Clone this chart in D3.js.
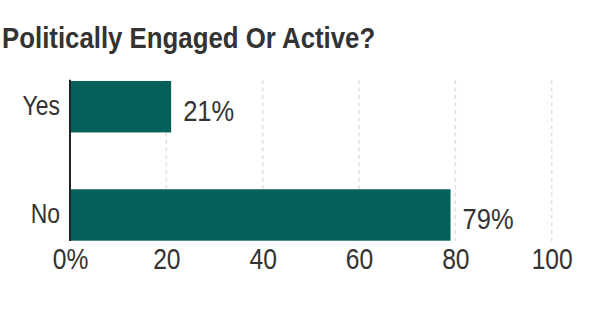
<!DOCTYPE html>
<html>
<head>
<meta charset="utf-8">
<script src="https://cdn.jsdelivr.net/npm/d3@7"></script>
<style>
  html, body { margin: 0; padding: 0; background: #fff; }
  svg text { font-family: "Liberation Sans", Arial, sans-serif; }
</style>
</head>
<body>
<svg id="chart" width="600" height="322"></svg>
<script>
const title = "Politically Engaged Or Active?";
const categories = ["Yes", "No"];
const values = [21, 79];
const tickValues = [0, 20, 40, 60, 80, 100];
const tickLabels = ["0%", "20", "40", "60", "80", "100"];

const SX = 0.85;      // horizontal condensing of body text
const SX_TITLE = 0.89;

const svg = d3.select("#chart");
const x = d3.scaleLinear().domain([0, 100]).range([70, 551.7]);
const y = d3.scaleBand().domain(categories).range([81, 240.7]).paddingInner(0.525).paddingOuter(0);

svg.append("text")
  .attr("transform", `translate(2,48) scale(${SX_TITLE},1)`)
  .attr("font-size", 29).attr("font-weight", "bold")
  .attr("fill", "#333")
  .text(title);

// gridlines
svg.append("g").selectAll("line")
  .data(tickValues.filter(d => d > 0))
  .join("line")
  .attr("x1", d => x(d)).attr("x2", d => x(d))
  .attr("y1", 80).attr("y2", 241)
  .attr("stroke", "#e0e0e0").attr("stroke-width", 1.5)
  .attr("stroke-dasharray", "4,3.5");

// bars
svg.append("g").selectAll("rect")
  .data(values)
  .join("rect")
  .attr("x", x(0))
  .attr("y", (d, i) => y(categories[i]))
  .attr("width", d => x(d) - x(0))
  .attr("height", y.bandwidth())
  .attr("fill", "#05605b");

// value labels
svg.append("g").selectAll("text")
  .data(values)
  .join("text")
  .attr("transform", (d, i) => `translate(${x(d) + 12},${y(categories[i]) + y.bandwidth() / 2 + 14.5}) scale(${SX},1)`)
  .attr("font-size", 30).attr("fill", "#333")
  .text(d => d + "%");

// y axis
const yAxis = d3.axisLeft(y).tickSize(0).tickPadding(10);
const gy = svg.append("g").attr("transform", `translate(${x(0)},0)`).call(yAxis);
gy.select(".domain").remove();
gy.selectAll("text")
  .attr("font-size", 27).attr("fill", "#333")
  .attr("dy", null).attr("x", null).attr("y", null)
  .attr("transform", `translate(-10,7.8) scale(${SX},1)`)
  .attr("font-family", null);

svg.append("line")
  .attr("x1", x(0)).attr("x2", x(0))
  .attr("y1", 79.7).attr("y2", 241)
  .attr("stroke", "#222").attr("stroke-width", 2);

// x axis
const xAxis = d3.axisBottom(x).tickValues(tickValues)
  .tickFormat((d, i) => tickLabels[i]).tickSize(0).tickPadding(0);
const gx = svg.append("g").attr("transform", "translate(0,241)").call(xAxis);
gx.select(".domain").remove();
gx.selectAll("text")
  .attr("font-size", 29).attr("fill", "#333")
  .attr("dy", null).attr("y", null)
  .attr("transform", `translate(0,27.5) scale(${SX},1)`)
  .attr("font-family", null);
</script>
</body>
</html>
